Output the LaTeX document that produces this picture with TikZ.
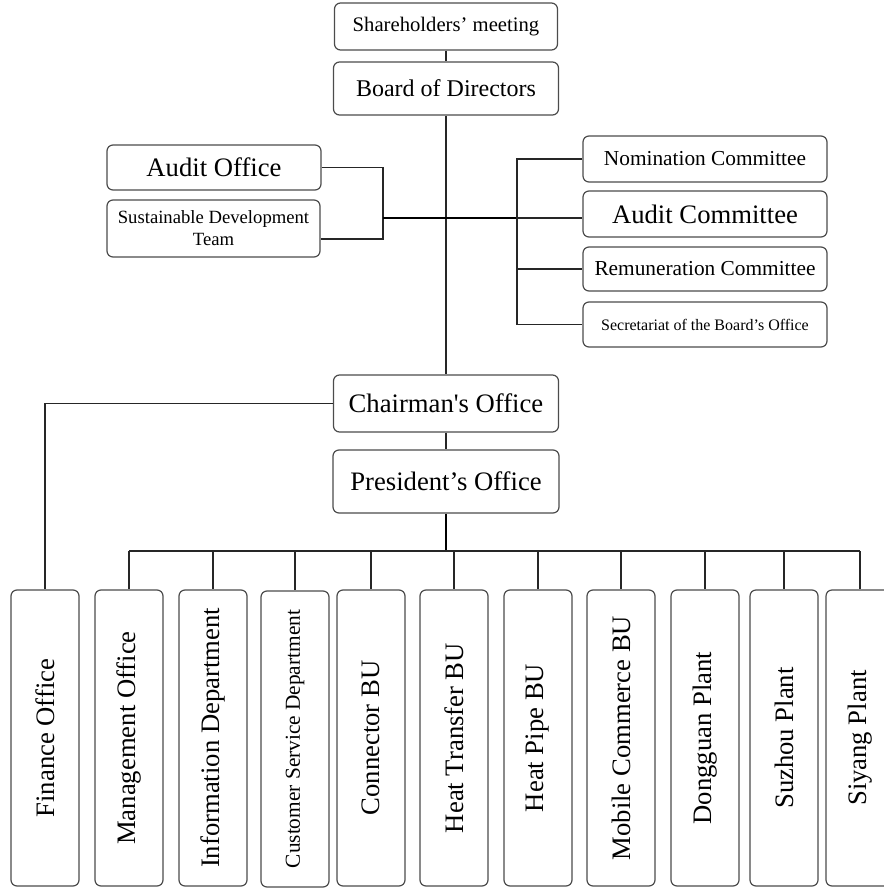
\documentclass[tikz,border=0pt]{standalone}
\usepackage{fontspec}
\setmainfont{Liberation Serif}
\usetikzlibrary{positioning}

\begin{document}
\begin{tikzpicture}[
            x=0.75pt, y=-0.75pt,
            box/.style={draw=black!70, line width=0.9pt, rounded corners=4.5pt,
                fill=white, inner sep=0pt, align=center},
            vbox/.style={box, rotate=90, minimum width=296*0.75pt,
                minimum height=68*0.75pt, font=\fontsize{20}{24}\selectfont},
            link/.style={draw=black!85, line width=0.9pt},
            spine/.style={draw=black, line width=1.6pt}
        ]
        \def\pu{0.75pt}
        \useasboundingbox (0,0) rectangle (884,888);

        % top of the chart
        \node[box, minimum width=223*\pu, minimum height=47*\pu, font=\fontsize{15.5}{18}\selectfont]
            (share) at (446,26.5) {Shareholders’ meeting};
        \node[box, minimum width=225*\pu, minimum height=53*\pu, font=\fontsize{18}{21}\selectfont]
            (board) at (446,88.5) {Board of Directors};

        \node[box, minimum width=214*\pu, minimum height=45*\pu, font=\fontsize{20}{24}\selectfont]
            (audoff) at (214,167.5) {Audit Office};
        \node[box, minimum width=213*\pu, minimum height=57*\pu, font=\fontsize{14}{16.5}\selectfont]
            (sdt) at (213.5,228.5) {Sustainable Development\\Team};

        \node[box, minimum width=244*\pu, minimum height=46*\pu, font=\fontsize{16}{19}\selectfont]
            (nomc) at (705,159) {Nomination Committee};
        \node[box, minimum width=244*\pu, minimum height=46*\pu, font=\fontsize{20}{24}\selectfont]
            (audc) at (705,214) {Audit Committee};
        \node[box, minimum width=244*\pu, minimum height=44*\pu, font=\fontsize{16}{19}\selectfont]
            (remc) at (705,269) {Remuneration Committee};
        \node[box, minimum width=244*\pu, minimum height=45*\pu, font=\fontsize{12}{14}\selectfont]
            (secc) at (705,324.5) {Secretariat of the Board’s Office};

        \node[box, minimum width=225*\pu, minimum height=57*\pu, font=\fontsize{20}{24}\selectfont]
            (chair) at (446,403.5) {Chairman\textquotesingle s Office};
        \node[box, minimum width=226*\pu, minimum height=63*\pu, font=\fontsize{20}{24}\selectfont]
            (pres) at (446,481.5) {President’s Office};

        % departments
        \node[vbox] (fin) at (45,738) {Finance Office};
        \node[vbox] (mgmt) at (129,738) {Management Office};
        \node[vbox] (info) at (213,738) {Information Department};
        \node[vbox, font=\fontsize{16}{19}\selectfont] (cust) at (295,739) {Customer Service Department};
        \node[vbox] (conn) at (371,738) {Connector BU};
        \node[vbox] (heat) at (454,738) {Heat Transfer BU};
        \node[vbox] (pipe) at (538,738) {Heat Pipe BU};
        \node[vbox] (mobi) at (621,738) {Mobile Commerce BU};
        \node[vbox] (dong) at (705,738) {Dongguan Plant};
        \node[vbox] (suz) at (784,738) {Suzhou Plant};
        \node[vbox] (siy) at (860,738) {Siyang Plant};

        \coordinate (lj) at (383,218);
        \coordinate (rj) at (517,218);
        \coordinate (lbar) at (383,239);
        \coordinate (bus) at (446,551);

        \draw[link] (share) -- (board);
        \draw[link] (board) -- (chair);
        \draw[link] (chair) -- (pres);

        \draw[link] (audoff.east) -| (lbar) -- (lbar -| sdt.east);
        \draw[spine] (lj) -- (rj);
        \draw[link] (rj) -- (rj -| audc.west);
        \draw[link] (nomc.west) -| (rj |- secc.west) -- (secc.west);
        \draw[link] (rj |- remc.west) -- (remc.west);

        \draw[link] (chair.west) -| (fin.east);
        \draw[spine] (pres) -- (bus);
        \draw[link] (bus -| mgmt.east) -- (bus -| siy.east);
        \foreach \n in {mgmt,info,cust,conn,heat,pipe,mobi,dong,suz,siy}
            \draw[link] (bus -| \n.east) -- (\n.east);
    \end{tikzpicture}
\end{document}
